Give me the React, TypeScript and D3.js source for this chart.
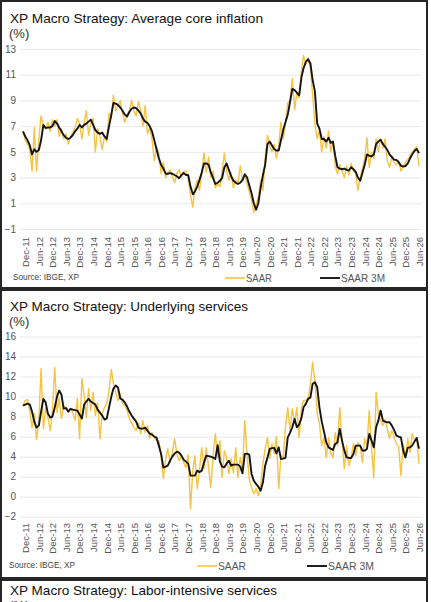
import React, { useEffect, useRef } from 'react';
import * as d3 from 'd3';

// monthly readings, Nov-11 onwards
const START = new Date(2011, 10, 1);

const coreSaar = [
  6.6, 5.9, 5.6, 5.2, 3.5, 6.9, 3.5, 6.0, 7.8, 7.0, 6.8, 7.3,
  6.6, 7.5, 7.0, 7.5, 6.2, 6.8, 6.0, 6.4, 5.6, 6.2, 6.5, 6.8,
  7.6, 7.2, 6.0, 7.3, 8.2, 6.3, 7.2, 7.6, 5.0, 6.8, 6.2, 5.2,
  6.2, 5.8, 8.0, 7.6, 9.4, 8.2, 8.6, 9.0, 8.0, 7.3, 7.9, 8.2,
  9.0, 8.2, 7.8, 8.9, 8.3, 7.0, 8.6, 6.4, 6.9, 6.0, 4.3, 5.4,
  4.9, 3.3, 4.2, 3.0, 3.4, 3.6, 3.1, 2.6, 3.3, 3.6, 3.0, 3.5,
  3.5, 3.0, 1.6, 0.7, 2.2, 2.8, 2.0, 3.3, 4.9, 3.4, 4.6, 3.0,
  3.5, 2.2, 2.5, 2.3, 3.4, 4.9, 3.5, 2.8, 3.4, 2.2, 2.8, 2.6,
  3.9, 2.8, 3.3, 2.5, 1.9, 1.3, 0.3, 0.9, 1.5, 2.8, 2.0, 4.5,
  6.3, 5.5, 5.0, 5.6, 4.5, 5.5, 7.3, 6.0, 7.3, 8.8, 9.0, 10.7,
  8.3, 9.6, 9.2, 11.3, 12.5, 11.8, 12.3, 11.6, 9.5, 7.2, 6.0, 6.7,
  5.0, 6.2, 5.3, 6.6, 5.0, 5.8, 3.9, 3.3, 4.0, 3.5, 3.0, 3.9,
  3.2, 4.1, 3.5, 3.3, 2.0, 3.0, 3.7, 4.5, 6.1, 3.8, 5.0, 4.5,
  6.0, 5.0, 6.0, 5.3, 6.0, 4.3, 3.8, 4.6, 4.2, 4.0, 4.3, 3.5,
  3.9, 4.2, 4.4, 4.7, 5.0, 5.2, 5.4, 3.9,
];

const coreSaar3m = [
  6.6, 6.2, 5.9, 5.5, 4.8, 5.2, 5.0, 5.15, 5.9, 7.1, 6.85, 6.9,
  6.9, 7.0, 7.4, 7.2, 6.9, 6.6, 6.3, 6.1, 6.0, 6.1, 6.3, 6.6,
  6.8, 7.1, 6.9, 7.1, 7.2, 7.35, 7.5, 7.1, 6.7, 6.5, 6.4, 6.5,
  6.2, 6.0, 7.0, 7.9, 8.8, 8.75, 8.65, 8.45, 8.2, 7.9, 7.75, 8.1,
  8.35, 8.45, 8.4, 8.2, 8.0, 7.6, 7.35, 7.25, 7.0, 6.6, 5.9, 5.2,
  4.5, 4.0, 3.7, 3.3, 3.3, 3.35, 3.3, 3.2, 3.1, 2.95, 3.2, 3.35,
  3.2, 3.2, 2.3, 1.7, 1.9, 2.3, 2.8, 3.4, 4.1, 4.1, 4.0, 3.4,
  2.95, 2.5, 2.6, 2.75, 2.95, 3.8, 4.1, 3.6, 3.1, 2.75, 2.6, 2.5,
  2.6, 2.8, 3.25, 3.0, 2.4, 1.78, 1.0, 0.5, 1.0, 2.2, 3.2, 4.0,
  5.6, 5.8, 5.5, 5.2, 5.1, 5.1, 5.9, 6.7, 7.3, 7.9, 8.9, 9.9,
  9.8, 9.6, 9.4, 10.8, 11.5, 12.0, 12.2, 11.9, 10.6, 9.7, 7.2, 6.8,
  6.0, 6.0, 5.8, 6.1, 5.7, 5.8, 4.7, 3.8, 3.7, 3.65, 3.7, 3.6,
  3.55, 3.8, 3.65, 3.45, 3.0, 2.75, 3.35, 4.0, 4.8, 4.7, 4.65, 4.8,
  5.6, 5.8, 5.95, 5.6, 5.4, 5.15, 4.8, 4.6, 4.4, 4.37, 4.2, 3.93,
  3.85, 3.9, 4.1, 4.5, 4.8, 5.07, 5.23, 4.9,
];

const servSaar = [
  9.1, 9.6, 9.7, 8.6, 6.9, 8.3, 5.7, 7.6, 12.8, 6.8, 8.9, 7.9,
  6.6, 8.6, 12.9, 8.4, 9.9, 7.8, 9.1, 8.9, 8.4, 8.8, 8.4, 7.6,
  9.8, 5.8, 11.8, 10.1, 7.9, 10.8, 8.6, 10.4, 8.1, 9.4, 5.8, 8.3,
  8.9, 9.3, 10.6, 12.7, 11.3, 10.4, 9.6, 10.3, 9.3, 9.1, 8.6, 7.8,
  7.4, 6.9, 6.6, 7.4, 6.3, 7.6, 6.4, 7.1, 5.8, 6.4, 5.9, 5.6,
  5.6, 4.1, 1.8, 3.8, 4.8, 3.4, 4.4, 5.8, 4.3, 3.6, 4.1, 3.4,
  2.9, 4.2, -1.2, 2.6, 4.1, 0.8, 2.6, 4.9, 2.8, 4.9, 2.9, 0.9,
  4.1, 6.3, 3.9, 5.6, 1.9, 4.6, 3.9, 2.3, 3.8, 2.4, 4.9, 1.9,
  3.9, 2.6, 7.6, 4.1, 1.8, 0.9, 0.3, 0.8, 0.1, 1.1, 3.3, 4.8,
  5.9, 3.8, 5.3, 4.3, 6.0, 0.8, 4.1, 3.9, 6.9, 8.9, 6.6, 8.8,
  7.3, 8.9, 5.9, 8.9, 9.6, 9.6, 9.8, 11.3, 13.4, 11.6, 8.3, 7.3,
  5.1, 5.9, 3.9, 5.9, 4.4, 3.9, 6.4, 5.1, 8.9, 5.6, 2.8, 5.1,
  3.1, 3.9, 5.3, 4.1, 5.4, 5.1, 3.4, 5.8, 5.1, 8.6, 4.8, 1.9,
  10.4, 8.3, 7.6, 7.1, 7.7, 6.8, 5.8, 6.6, 5.9, 5.3, 5.0, 2.1,
  5.3, 3.9, 5.8, 4.4, 6.3, 5.6, 5.9, 3.3,
];

const servSaar3m = [
  9.1, 9.2, 9.3, 9.2, 8.5, 7.5, 6.9, 7.1, 8.5, 9.77, 9.4, 8.3,
  7.9, 8.0, 8.9, 10.0, 10.6, 10.2, 8.8, 8.85, 8.5, 8.77, 8.7, 8.65,
  8.6, 8.2, 7.8, 9.2, 9.5, 9.77, 9.5, 9.35, 9.2, 8.7, 8.4, 8.1,
  7.7, 7.8, 8.9, 10.0, 10.8, 11.1, 10.9, 9.8, 9.7, 9.4, 9.0, 8.5,
  8.1, 7.8, 7.5, 6.9, 6.8, 6.8, 6.9, 6.6, 6.3, 6.2, 6.0, 5.9,
  5.1, 4.3, 2.9, 3.0, 3.1, 3.6, 4.0, 4.3, 4.5, 4.4, 4.1, 3.7,
  3.5, 3.3, 2.1, 2.1, 2.1, 2.6, 2.45, 2.6, 3.4, 4.1, 4.05, 4.0,
  3.9, 3.77, 5.15, 3.5, 3.0, 2.93, 3.3, 3.6, 3.1, 3.2, 3.2, 3.2,
  3.0, 2.33, 4.27, 4.3, 4.2, 2.27, 1.6, 1.27, 1.0, 0.6, 1.43, 3.1,
  3.9, 4.77, 4.85, 4.87, 4.33, 4.93, 3.77, 3.8, 3.87, 5.93, 6.4, 6.93,
  7.77, 6.93, 7.2, 7.87, 8.93, 9.27, 9.77, 9.9, 11.27, 11.43, 10.93, 8.93,
  7.5, 6.5, 5.43, 4.93, 4.8, 4.67, 5.27, 5.43, 6.77, 5.6, 4.6, 3.93,
  3.87, 3.87, 4.27, 5.1, 5.1, 5.1, 4.6, 4.6, 4.77, 6.27, 5.6, 4.93,
  6.93, 7.6, 8.6, 7.6, 7.5, 7.43, 7.43, 7.1, 6.67, 6.1, 6.0, 5.93,
  4.6, 3.93, 4.9, 4.93, 5.1, 5.5, 5.87, 4.8,
];

const coreTicks = [-1, 1, 3, 5, 7, 9, 11, 13];
const servTicks = [-2, 0, 2, 4, 6, 8, 10, 12, 14, 16];
const seriesNames = ['SAAR', 'SAAR 3M'];
const sourceText = 'Source: IBGE, XP';

const YELLOW = '#F6C343';
const BLACK = '#141414';
const FONT = '"Liberation Sans", Arial, sans-serif';

const App = () => {
  const svgRef = useRef(null);

  useEffect(() => {
    const svg = d3.select(svgRef.current);
    svg.html('');

    const panels = [
      {
        box: [1, 1, 426, 287],
        title: 'XP Macro Strategy: Average core inflation',
        titleY: 22.5, titleW: 253, unitY: 38,
        saar: coreSaar, saar3m: coreSaar3m,
        ticks: coreTicks, yRange: [229, 49], gridRight: 421,
        xLabelTop: 237, sourceY: 280, sourceX: 13,
        legend: { y: 278, a: 225, b: 320, wa: 26, wb: 44 },
      },
      {
        box: [1, 290, 426, 288],
        title: 'XP Macro Strategy: Underlying services',
        titleY: 310.5, titleW: 238, unitY: 326,
        saar: servSaar, saar3m: servSaar3m,
        ticks: servTicks, yRange: [516.7, 336.5], gridRight: 423,
        xLabelTop: 523, sourceY: 568, sourceX: 9,
        legend: { y: 566, a: 197, b: 307, wa: 28, wb: 46 },
      },
    ];

    const months = coreSaar.map((_, i) => d3.timeMonth.offset(START, i));
    const x = d3.scaleTime()
      .domain([months[0], months[months.length - 1]])
      .range([23, 419]);
    const xTicks = d3.timeMonth.range(new Date(2011, 11, 1), new Date(2026, 6, 1), 6);

    panels.forEach(p => {
      const g = svg.append('g');

      g.append('rect')
        .attr('x', p.box[0]).attr('y', p.box[1])
        .attr('width', p.box[2]).attr('height', p.box[3])
        .attr('fill', '#fff')
        .attr('stroke', '#262626')
        .attr('stroke-width', 2);

      g.append('text')
        .attr('x', 10).attr('y', p.titleY)
        .attr('textLength', p.titleW)
        .attr('lengthAdjust', 'spacingAndGlyphs')
        .style('font-family', FONT).style('font-size', '13.5px')
        .style('fill', '#111')
        .text(p.title);

      g.append('text')
        .attr('x', 9).attr('y', p.unitY)
        .style('font-family', FONT).style('font-size', '13px')
        .style('fill', '#333')
        .text('(%)');

      const y = d3.scaleLinear()
        .domain(d3.extent(p.ticks))
        .range(p.yRange);

      // gridlines + y labels
      const yAxis = g.append('g')
        .attr('transform', 'translate(20,0)')
        .call(d3.axisLeft(y).tickValues(p.ticks).tickSize(-(p.gridRight - 20)).tickPadding(4));
      yAxis.select('.domain').remove();
      yAxis.selectAll('.tick line').attr('stroke', '#e9e9e9');
      yAxis.selectAll('text')
        .style('font-family', FONT).style('font-size', '10px')
        .style('fill', '#555');

      // rotated month labels
      const xAxis = g.append('g')
        .attr('transform', `translate(0,${p.xLabelTop})`)
        .call(d3.axisBottom(x).tickValues(xTicks).tickFormat(d3.timeFormat('%b-%y')).tickSize(0));
      xAxis.select('.domain').remove();
      xAxis.selectAll('text')
        .attr('transform', 'rotate(-90)')
        .attr('x', 0).attr('y', 0)
        .attr('dy', '0.35em')
        .style('text-anchor', 'end')
        .style('font-family', FONT).style('font-size', '9.5px')
        .style('fill', '#555');

      const line = d3.line()
        .x((d, i) => x(months[i]))
        .y(d => y(d));

      g.append('path')
        .datum(p.saar)
        .attr('fill', 'none')
        .attr('stroke', YELLOW)
        .attr('stroke-width', 1.4)
        .attr('stroke-linejoin', 'round')
        .attr('d', line);

      g.append('path')
        .datum(p.saar3m)
        .attr('fill', 'none')
        .attr('stroke', BLACK)
        .attr('stroke-width', 1.9)
        .attr('stroke-linejoin', 'round')
        .attr('d', line);

      g.append('text')
        .attr('x', p.sourceX).attr('y', p.sourceY)
        .attr('textLength', 66)
        .attr('lengthAdjust', 'spacingAndGlyphs')
        .style('font-family', FONT).style('font-size', '9px')
        .style('fill', '#444')
        .text(sourceText);

      // legend
      const lg = p.legend;
      [[lg.a, YELLOW, lg.wa], [lg.b, BLACK, lg.wb]].forEach(([lx, color, w], k) => {
        g.append('line')
          .attr('x1', lx).attr('x2', lx + 20)
          .attr('y1', lg.y).attr('y2', lg.y)
          .attr('stroke', color)
          .attr('stroke-width', k === 0 ? 1.6 : 1.9);
        g.append('text')
          .attr('x', lx + 21).attr('y', lg.y + 4)
          .attr('textLength', w)
          .attr('lengthAdjust', 'spacingAndGlyphs')
          .style('font-family', FONT).style('font-size', '11px')
          .style('fill', '#555')
          .text(seriesNames[k]);
      });
    });

    // next panel, cut off at the bottom
    const g3 = svg.append('g');
    g3.append('rect')
      .attr('x', 1).attr('y', 580).attr('width', 426).attr('height', 40)
      .attr('fill', '#fff').attr('stroke', '#262626').attr('stroke-width', 2);
    g3.append('text')
      .attr('x', 10).attr('y', 594.5)
      .attr('textLength', 267)
      .attr('lengthAdjust', 'spacingAndGlyphs')
      .style('font-family', FONT).style('font-size', '13.5px')
      .style('fill', '#111')
      .text('XP Macro Strategy: Labor-intensive services');
    g3.append('text')
      .attr('x', 9).attr('y', 610)
      .style('font-family', FONT).style('font-size', '13px')
      .style('fill', '#333')
      .text('(%)');
  }, []);

  return (
    <svg
      ref={svgRef}
      width={431}
      height={602}
      style={{ position: 'absolute', left: 0, top: 0, background: '#fff' }}
    />
  );
};

export default App;
